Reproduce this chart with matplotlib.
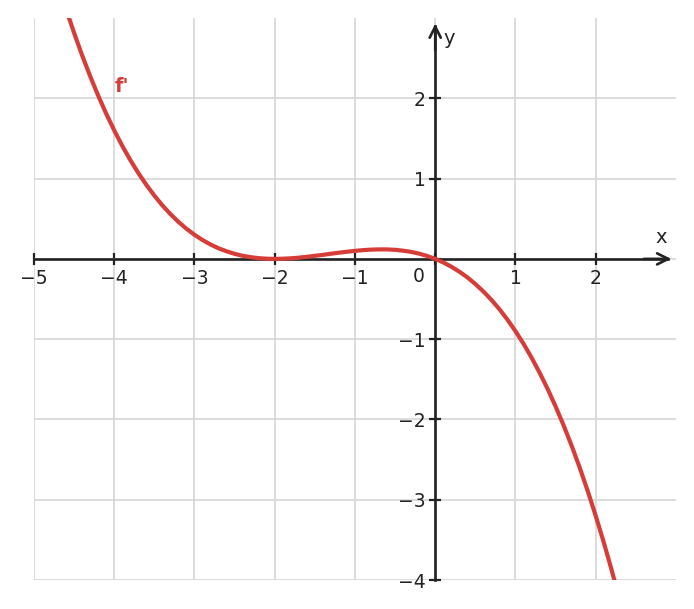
import matplotlib.pyplot as plt

# f'(x)
x_vals = [-4.6, -4.5, -4.4, -4.3, -4.2, -4.1, -4.0, -3.9, -3.8, -3.7, -3.6, -3.5,
          -3.4, -3.3, -3.2, -3.1, -3.0, -2.9, -2.8, -2.7, -2.6, -2.5, -2.4, -2.3,
          -2.2, -2.1, -2.0, -1.9, -1.8, -1.7, -1.6, -1.5, -1.4, -1.3, -1.2, -1.1,
          -1.0, -0.9, -0.8, -0.7, -0.6, -0.5, -0.4, -0.3, -0.2, -0.1, 0.0, 0.1,
          0.2, 0.3, 0.4, 0.5, 0.6, 0.7, 0.8, 0.9, 1.0, 1.1, 1.2, 1.3,
          1.4, 1.5, 1.6, 1.7, 1.8, 1.9, 2.0, 2.1, 2.2, 2.3]
y_vals = [3.110, 2.813, 2.534, 2.275, 2.033, 1.808, 1.600, 1.408, 1.231, 1.069, 0.922, 0.788,
          0.666, 0.558, 0.461, 0.375, 0.300, 0.235, 0.179, 0.132, 0.094, 0.063, 0.038, 0.021,
          0.009, 0.002, 0.0, 0.002, 0.007, 0.015, 0.026, 0.038, 0.050, 0.064, 0.077, 0.089,
          0.100, 0.109, 0.115, 0.118, 0.118, 0.113, 0.102, 0.087, 0.065, 0.036, 0.0, -0.044,
          -0.097, -0.159, -0.230, -0.313, -0.406, -0.510, -0.627, -0.757, -0.900, -1.057, -1.229, -1.416,
          -1.618, -1.838, -2.074, -2.327, -2.599, -2.890, -3.200, -3.530, -3.881, -4.253]
x_ticks = [-5, -4, -3, -2, -1, 0, 1, 2]
y_ticks = [-4, -3, -2, -1, 0, 1, 2]

red = '#d63d38'
dark = '#222222'


def tick_label(t):
    if t == 0:
        return ''
    return '\u2212' + str(-t) if t < 0 else str(t)


fig = plt.figure(figsize=(6.94, 6.09), dpi=100)
ax = fig.add_axes([0.049, 0.0476, 0.925, 0.9228])
ax.set_xlim(-5, 3)
ax.set_ylim(-4, 3)

ax.set_xticks(x_ticks)
ax.set_yticks(y_ticks)
ax.set_xticklabels([tick_label(t) for t in x_ticks])
ax.set_yticklabels([tick_label(t) for t in y_ticks])
ax.grid(True, color='#d6d6d6', lw=1.2, zorder=0)
ax.set_axisbelow(True)

for s in ['top', 'right']:
    ax.spines[s].set_visible(False)
ax.spines['left'].set_position(('data', 0))
ax.spines['bottom'].set_position(('data', 0))
ax.spines['bottom'].set_bounds(-5, 2.9)
ax.spines['left'].set_bounds(-4, 2.9)
for s in ['left', 'bottom']:
    ax.spines[s].set_color(dark)
    ax.spines[s].set_linewidth(1.9)
ax.tick_params(direction='inout', length=8, width=1.6, color=dark,
               labelsize=13.5, labelcolor=dark, pad=3)

# arrow heads on the axes
ax.annotate('', xy=(2.94, 0), xytext=(2.6, 0),
            arrowprops=dict(arrowstyle='->', lw=1.9, color=dark, mutation_scale=20,
                            shrinkA=0, shrinkB=0))
ax.annotate('', xy=(0, 2.93), xytext=(0, 2.6),
            arrowprops=dict(arrowstyle='->', lw=1.9, color=dark, mutation_scale=20,
                            shrinkA=0, shrinkB=0))

ax.plot(x_vals, y_vals, color=red, lw=3, zorder=5, solid_joinstyle='round')

ax.text(2.81, 0.15, 'x', fontsize=14, color=dark, ha='center', va='bottom')
ax.text(0.1, 2.75, 'y', fontsize=14, color=dark, ha='left', va='center')
ax.text(-0.21, -0.22, '0', fontsize=13.5, color=dark, ha='center', va='center')
ax.text(-3.9, 2.15, "f'", fontsize=14, color=red, fontweight='bold', ha='center', va='center')

fig.savefig('out.png', dpi=100)
